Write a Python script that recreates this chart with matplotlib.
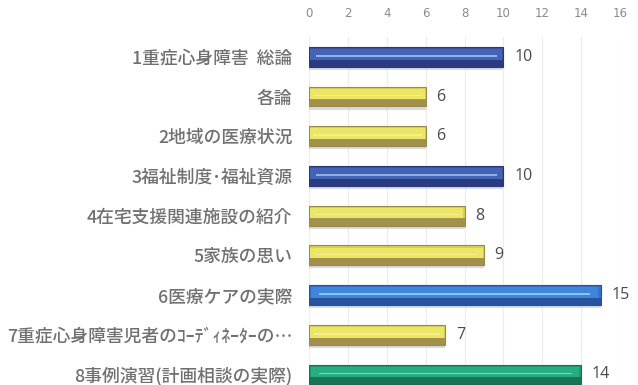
import matplotlib
matplotlib.use("Agg")
import matplotlib.pyplot as plt
import numpy as np

plt.rcParams['font.family'] = ['Noto Sans CJK JP', 'DejaVu Sans']

categories = [
    "1重症心身障害  総論",
    "各論",
    "2地域の医療状況",
    "3福祉制度･福祉資源",
    "4在宅支援関連施設の紹介",
    "5家族の思い",
    "6医療ケアの実際",
    "7重症心身障害児者のｺｰﾃﾞｨﾈｰﾀｰの…",
    "8事例演習(計画相談の実際)",
]
values = [10, 6, 6, 10, 8, 9, 15, 7, 14]
color_keys = ["blue", "yellow", "yellow", "blue", "yellow", "yellow", "lightblue", "yellow", "green"]
xticks = [0, 2, 4, 6, 8, 10, 12, 14, 16]

palette = {
    # base, top (light), bottom (dark), highlight line
    "blue": ("#3a52a0", "#4563b5", "#28387a", "#8fb0ea"),
    "yellow": ("#d9cf55", "#ece667", "#9a874a", "#f4ef8a"),
    "lightblue": ("#3573c8", "#3f86da", "#264f98", "#8cc4f2"),
    "green": ("#1f9a72", "#27ad82", "#176e55", "#7fd8b4"),
}

W, H = 638, 385
fig = plt.figure(figsize=(W / 100, H / 100), dpi=100)
left_px, right_px = 309, 620
top_px = 37
row_px = 39.7
n = len(categories)
bottom_px = top_px + n * row_px
ax = fig.add_axes([left_px / W, (H - bottom_px) / H, (right_px - left_px) / W, (bottom_px - top_px) / H])

y = np.arange(n)
h = 0.5
for i, (v, k) in enumerate(zip(values, color_keys)):
    base, light, dark, hi = palette[k]
    # shadow
    ax.barh(y[i] + 0.08, v, height=h, color="#b9c6d6", alpha=0.6, zorder=2)
    # main bar
    ax.barh(y[i], v, height=h, color=base, edgecolor=dark, linewidth=0.8, zorder=3)
    # light upper part
    ax.barh(y[i] - h * 0.12, v * 0.985, left=v * 0.0075, height=h * 0.55, color=light, linewidth=0, zorder=4)
    # dark lower part
    ax.barh(y[i] + h * 0.32, v, height=h * 0.36, color=dark, linewidth=0, zorder=4, alpha=0.85)
    # highlight line
    ax.barh(y[i] - h * 0.05, v * 0.93, left=v * 0.035, height=h * 0.08, color=hi, linewidth=0, zorder=5)
    ax.text(v + 0.55, y[i], str(v), va="center", ha="left", fontsize=11.5, color="#4a4a4a",
            family=['Open Sans', 'DejaVu Sans'])

ax.set_xlim(0, 16)
ax.set_ylim(n - 0.5, -0.5)
ax.set_xticks(xticks)
ax.xaxis.tick_top()
ax.tick_params(axis='x', length=0, pad=12, labelsize=8.5, labelcolor="#8a8a8a")
ax.set_xticklabels([str(t) for t in xticks], family=['DejaVu Sans'])
ax.set_yticks(y)
ax.set_yticklabels(categories, fontsize=12.8, color="#707070", fontweight='medium')
ax.tick_params(axis='y', length=0, pad=12)
ax.grid(axis='x', color="#ececec", linewidth=0.8, zorder=0)
ax.set_axisbelow(True)
for s in ax.spines.values():
    s.set_visible(False)

fig.savefig("out.png", dpi=100)
